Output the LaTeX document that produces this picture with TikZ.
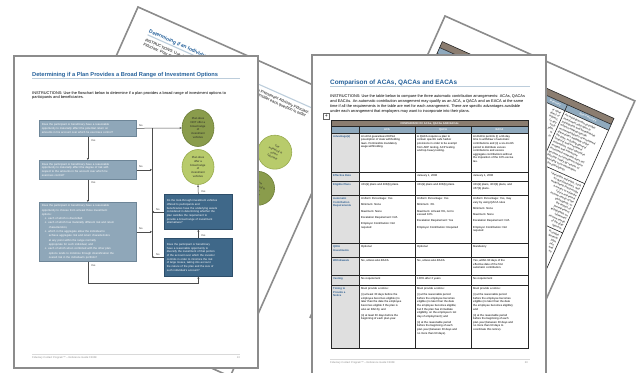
\documentclass[tikz,border=0pt]{standalone}
\usepackage{fontspec}
\setmainfont{Liberation Sans}
\usetikzlibrary{arrows.meta,shapes.geometric}
\newcommand\myfs[2]{\fontsize{#1}{#2}\selectfont}
\definecolor{pageborder}{HTML}{8C8C8C}
\definecolor{titleblue}{HTML}{24609A}
\definecolor{ulinecol}{HTML}{BCCDDB}
\definecolor{boxlight}{HTML}{8FA7B9}
\definecolor{boxlightb}{HTML}{6E8698}
\definecolor{boxdark}{HTML}{3F6889}
\definecolor{boxdarkb}{HTML}{2D4E6A}
\definecolor{circdark}{HTML}{8A9C4C}
\definecolor{circdarkb}{HTML}{6E7E38}
\definecolor{circlight}{HTML}{B8CB6B}
\definecolor{circlightb}{HTML}{97AA4D}
\definecolor{bandcol}{HTML}{8B7D70}
\definecolor{hdrcol}{HTML}{8FA9BD}
\definecolor{firstcol}{HTML}{DFDFDF}
\definecolor{labelblue}{HTML}{2A5C8F}
\definecolor{linecol}{HTML}{4D4D4D}
\definecolor{footgray}{HTML}{8A8A8A}
\tikzset{
 pg/.style={fill=white, draw=pageborder, line width=1.6pt},
 ttl/.style={font=\bfseries\myfs{5.7}{6.5}, text=titleblue, inner sep=0pt, anchor=base west},
 instr/.style={font=\myfs{3.9}{4.4}, inner sep=0pt, anchor=north west, align=left},
 uline/.style={draw=ulinecol, line width=1.1pt},
 fbox/.style={anchor=north west, align=left, text=white, inner xsep=2.5pt, inner ysep=1pt, line width=0.6pt, font=\myfs{2.8}{3.7}},
 lbox/.style={fbox, draw=boxlightb, fill=boxlight},
 dbox/.style={fbox, draw=boxdarkb, fill=boxdark},
 oval/.style={ellipse, inner sep=0pt, line width=0.6pt, align=center, font=\myfs{2.8}{3.8}, text=black!85},
 ovdark/.style={oval, draw=circdarkb, fill=circdark},
 ovlight/.style={oval, draw=circlightb, fill=circlight},
 conn/.style={draw=linecol, line width=0.5pt, -{Stealth[length=2.2pt,width=2pt]}},
 ln/.style={draw=linecol, line width=0.5pt},
 lbl/.style={font=\myfs{2.6}{3}, inner sep=0pt, anchor=base west, text=black!80},
 foot/.style={font=\myfs{2.6}{3}, inner sep=0pt, text=footgray},
 footline/.style={draw=black!15, line width=0.8pt},
 cell/.style={font=\myfs{2.8}{3.6}, inner sep=0pt, anchor=north west, align=left},
 rcell/.style={cell, anchor=north east, align=right},
 rowlbl/.style={cell, text=labelblue, font=\bfseries\myfs{2.7}{3.5}},
 hdrtxt/.style={font=\bfseries\myfs{2.7}{3}, text=white, inner sep=0pt},
 grid/.style={draw=black!85, line width=0.6pt},
}
\begin{document}
\begin{tikzpicture}[x=1pt,y=-1pt]
\useasboundingbox (0,0) rectangle (639,372);
\clip (0,0) rectangle (639,372);
\fill[white] (0,0) rectangle (639,372);

% ---------- back left page (rotated) ----------
\begin{scope}[shift={(138,7)}, rotate=-24, transform shape]
 \filldraw[pg] (0,0) rectangle (234.5,300);
 \node[ttl, font=\bfseries\myfs{5}{6}] (atitle) at (20,19) {Determining if an Individual};
 \draw[uline] (20,21.5) -- (226,21.5);
 \node[instr] (ai1) at (20,25.3) {INSTRUCTIONS: Use the\\Fiduciary. Prior to};
 \node[instr] (ai3) at (141,25.3) {an Investment Advisory Fiduciary.\\\hspace*{2pt}consider each question in order};
 \node[ovlight, minimum width=34pt, minimum height=34pt] (ac1) at (184,77) {The\\individual is\\a plan\\fiduciary};
 \node[ovdark, minimum width=34pt, minimum height=34pt] (ac2) at (183,117) {The\\individual is\\not a\\fiduciary};
\end{scope}

% ---------- back right page (rotated) ----------
\begin{scope}[shift={(445,16)}, rotate=-24.1, transform shape]
 \filldraw[pg] (0,0) rectangle (208,330);
 \fill[bandcol] (8,24.5) rectangle (196,31);
 \fill[hdrcol] (8,31) rectangle (196,37.5);
 \fill[firstcol] (8,37.5) rectangle (44,300);
 \draw[grid] (8,24.5) rectangle (196,300);
 \foreach \v in {31,37.5,96,150,205,262} \draw[grid] (8,\v) -- (196,\v);
 \foreach \u in {44,96,148} \draw[grid] (\u,31) -- (\u,300);
 \node[hdrtxt, anchor=west] (bh3) at (130,34.3) {Fiduciary};
 \node[hdrtxt] (bh4) at (172,34.3) {Non-Fiduciary};
 \node[cell] (bp) at (150,40) {An individual who provides\\investment education to\\participants and beneficiaries\\without making specific\\recommendations of investment\\alternatives available under\\the plan, including general\\financial and investment\\information, asset allocation\\models and interactive\\investment materials does not\\become an investment advice\\fiduciary solely by reason of\\providing such information\\to the participants.};
 \node[rcell] (bq) at (194,98.5) {interactive materials, such\\as questionnaires, and\\worksheets that provide\\a means to estimate\\future retirement\\income needs of the\\participants; or\\the impact of\\preretirement\\withdrawals on\\retirement\\income needs\\of the plan\\sponsor.};
 \node[rcell] (br) at (194,152.5) {Provides\\general\\plan\\info.\\and\\no};
 \node[rcell] (bs) at (146,40) {or other\\direct or\\indirect,\\to any\\such\\plan,\\or\\to};
\end{scope}

% ---------- front left page ----------
\filldraw[pg] (14,56) rectangle (258,368);
\node[ttl] (ltitle) at (32,76.5) {Determining if a Plan Provides a Broad Range of Investment Options};
\draw[uline] (32,78.8) -- (240,78.8);
\node[instr] (linstr) at (32,91) {INSTRUCTIONS: Use the flowchart below to determine if a plan provides a broad range of investment options to\\participants and beneficiaries.};

\node[lbox, minimum width=97pt, minimum height=16pt, text width=92pt] (b1) at (39,120) {Does the participant or beneficiary have a reasonable\\opportunity to materially affect the potential return on\\amounts in his account over which he exercises control?};
\node[lbox, minimum width=97pt, minimum height=19pt, text width=92pt] (b2) at (39,160) {Does the participant or beneficiary have a reasonable\\opportunity to materially affect the degree of risk with\\respect to the amounts in his account over which he\\exercises control?};
\node[lbox, minimum width=97pt, minimum height=59pt, text width=92pt, font=\myfs{2.8}{4.3}] (b3) at (39,202) {Does the participant or beneficiary have a reasonable\\opportunity to choose from at least three investment\\options:\\
\hspace*{3pt}o\hspace{2pt}each of which is diversified;\\
\hspace*{3pt}o\hspace{2pt}each of which has materially different risk and return\\\hspace*{7pt}characteristics;\\
\hspace*{3pt}o\hspace{2pt}which in the aggregate allow the individual to\\\hspace*{7pt}achieve aggregate risk and return characteristics\\\hspace*{7pt}at any point within the range normally\\\hspace*{7pt}appropriate for such individual; and\\
\hspace*{3pt}o\hspace{2pt}each of which when combined with the other plan\\\hspace*{7pt}options tends to minimize through diversification the\\\hspace*{7pt}overall risk in the individual's portfolio?};
\node[dbox, minimum width=68pt, minimum height=35pt, text width=63pt] (b4) at (164,194) {Do the look-through investment vehicles\\offered to participants and\\beneficiaries have the underlying assets\\considered in determining whether the\\plan satisfies the requirement to\\provide a broad range of investment\\alternatives?};
\node[dbox, minimum width=68pt, minimum height=38pt, text width=63pt] (b5) at (164,238) {Does the participant or beneficiary\\have a reasonable opportunity to\\diversify the investment of that portion\\of the account over which the investor\\controls in order to minimize the risk\\of large losses, taking into account\\the nature of the plan and the size of\\such individual's account?};
\node[ovdark, minimum width=32pt, minimum height=37pt] (c1) at (198,128) {Plan does\\NOT offer a\\broad range\\of\\investment\\vehicles};
\node[ovlight, minimum width=32pt, minimum height=35pt] (c2) at (198,167) {Plan does\\offer a\\broad range\\of\\investment\\vehicles};

\coordinate (bus) at (152,128);
\coordinate (botc) at (87.5,283);
\draw[conn] (b1.east) -- (c1.west);
\draw[ln] (bus) -- (bus |- b5.west);
\draw[conn] (b2.east) -- (bus |- b2.east);
\draw[conn] (b3.east) -- (bus |- b3.east);
\draw[conn] (b4.west) -- (bus |- b4.west);
\draw[conn] (b5.west) -- (bus |- b5.west);
\draw[conn] (b1.south) -- (b2.north);
\draw[conn] (b2.south) -- (b3.north);
\draw[conn] (b3.south) -- (b3.south |- botc) -| (b5.south);
\draw[conn] (b5.north) -- (b4.south);
\draw[conn] (b4.north) -- (c2.south);

\node[lbl] (n1) at (139,126.5) {No};
\node[lbl] (n2) at (139,167) {No};
\node[lbl] (n3) at (139,229.5) {No};
\node[lbl] (n4) at (156,210) {No};
\node[lbl] (n5) at (156,255) {No};
\node[lbl] (y1) at (91,141) {Yes};
\node[lbl] (y2) at (91,183.5) {Yes};
\node[lbl] (y3) at (91,266) {Yes};
\node[lbl] (y4) at (201,192.5) {Yes};
\node[lbl] (y5) at (201,236.5) {Yes};

\draw[footline] (32,354) -- (240,354);
\node[foot, anchor=base west] (lfoot) at (32,358.3) {Fiduciary Contact Program\texttrademark{} -- Reference Guide \textcopyright 2008};
\node[foot, anchor=base east] (lpage) at (240,358.3) {13};

% ---------- front right page ----------
\filldraw[pg] (312,55) rectangle (546,385);
\node[ttl, font=\bfseries\myfs{6.4}{7}] (rtitle) at (330,84) {Comparison of ACAs, QACAs and EACAs};
\draw[uline] (330,86.8) -- (530,86.8);
\node[instr, font=\myfs{3.9}{4.95}] (rinstr) at (330,94.5) {INSTRUCTIONS: Use the table below to compare the three automatic contribution arrangements: ACAs, QACAs\\and EACAs. An automatic contribution arrangement may qualify as an ACA, a QACA and an EACA at the same\\time if all the requirements in the table are met for each arrangement. There are specific advantages available\\under each arrangement that employers may want to incorporate into their plans.};
\node[draw=black!60, fill=white, line width=0.4pt, minimum size=5.5pt, inner sep=0pt, font=\myfs{5}{5}] (plus) at (326.3,116.3) {+};

\fill[bandcol] (331,120) rectangle (528,126.5);
\fill[hdrcol] (331,126.5) rectangle (528,133);
\fill[firstcol] (331,133) rectangle (359,348);
\draw[grid] (331,120) rectangle (528,348);
\foreach \y in {126.5,133,172,181,195,243,257,275,285} \draw[grid] (331,\y) -- (528,\y);
\foreach \x in {359,415,471} \draw[grid] (\x,126.5) -- (\x,348);
\node[hdrtxt] (rband) at (429.5,123.4) {COMPARISON OF ACAs, QACAs AND EACAs};
\node[hdrtxt] (rh1) at (387,129.9) {ACA};
\node[hdrtxt] (rh2) at (443,129.9) {QACA};
\node[hdrtxt] (rh3) at (499.5,129.9) {EACA};

\node[rowlbl] (l1) at (333,135) {Advantage(s)};
\node[rowlbl] (l2) at (333,174.5) {Effective Date};
\node[rowlbl] (l3) at (333,183.5) {Eligible Plans};
\node[rowlbl] (l4) at (333,197.5) {Automatic\\Contribution\\Requirements};
\node[rowlbl] (l5) at (333,245.5) {QDIA\\Investments};
\node[rowlbl] (l6) at (333,259.5) {Withdrawals};
\node[rowlbl] (l7) at (333,277.5) {Vesting};
\node[rowlbl] (l8) at (333,287.5) {Timing to\\Provide a\\Notice};

\node[cell] (a1) at (361,135) {An ACA guarantees ERISA\\preemption of state withholding\\laws. Permissible mandatory\\wage withholding.};
\node[cell] (q1) at (417,135) {A QACA requires a plan to\\contain specific safe harbor\\provisions in order to be exempt\\from ADP testing, ACP testing\\and top-heavy testing.};
\node[cell] (e1) at (473,135) {An EACA permits (i) a 90-day\\time to withdraw of automatic\\contributions and (ii) a six-month\\period to distribute excess\\contributions and excess\\aggregate contributions without\\the imposition of the 10\% excise\\tax.};
\node[cell] (q2) at (417,174.5) {January 1, 2008};
\node[cell] (e2) at (473,174.5) {January 1, 2008};
\node[cell] (a3) at (361,183.5) {401(k) plans and 403(b) plans.};
\node[cell] (q3) at (417,183.5) {401(k) plans and 403(b) plans.};
\node[cell] (e3) at (473,183.5) {401(k) plans, 403(b) plans, and\\457(b) plans.};
\node[cell] (a4) at (361,197.5) {Uniform Percentage: Yes\\[2.6pt]Minimum: None\\[2.6pt]Maximum: None\\[2.6pt]Escalation Requirement: N/A\\[2.6pt]Employer Contribution: Not\\required};
\node[cell] (q4) at (417,197.5) {Uniform Percentage: Yes\\[2.6pt]Minimum: 3\%\\[2.6pt]Maximum: At least 6\%, not to\\exceed 10\%\\[2.6pt]Escalation Requirement: Yes\\[2.6pt]Employer Contribution: Required};
\node[cell] (e4) at (473,197.5) {Uniform Percentage: Yes, may\\vary by using QACA rules\\[2.6pt]Minimum: None\\[2.6pt]Maximum: None\\[2.6pt]Escalation Requirement: N/A\\[2.6pt]Employer Contribution: Not\\required};
\node[cell] (a5) at (361,245.5) {Optional};
\node[cell] (q5) at (417,245.5) {Optional};
\node[cell] (e5) at (473,245.5) {Mandatory};
\node[cell] (a6) at (361,259.5) {No, unless also EACA};
\node[cell] (q6) at (417,259.5) {No, unless also EACA};
\node[cell] (e6) at (473,259.5) {Yes, within 90 days of the\\effective date of the first\\automatic contribution.};
\node[cell] (a7) at (361,277.5) {No requirement};
\node[cell] (q7) at (417,277.5) {100\% after 2 years};
\node[cell] (e7) at (473,277.5) {No requirement};
\node[cell] (a8) at (361,287.5) {Must provide a notice:\\[2.4pt](i) at least 30 days before the\\employee becomes eligible (no\\later than the date the employee\\becomes eligible if the plan is\\also an EACA); and\\[2.4pt](ii) at least 30 days before the\\beginning of each plan year.};
\node[cell] (q8) at (417,287.5) {Must provide a notice:\\[2.4pt](i) at the reasonable period\\before the employee becomes\\eligible (no later than the date\\the employee becomes eligible;\\but if the plan has immediate\\eligibility, on the employee's 1st\\day of employment); and\\[2.4pt](ii) at the reasonable period\\before the beginning of each\\plan year (between 30 days and\\no more than 90 days).};
\node[cell] (e8) at (473,287.5) {Must provide a notice:\\[2.4pt](i) at the reasonable period\\before the employee becomes\\eligible (no later than the date\\the employee becomes eligible);\\and\\[2.4pt](ii) at the reasonable period\\before the beginning of each\\plan year (between 30 days and\\no more than 90 days to\\coordinate this notice).};

\draw[footline] (330,359) -- (530,359);
\node[foot, anchor=base west] (rfoot) at (330,363) {Fiduciary Contact Program\texttrademark{} -- Reference Guide \textcopyright 2008};
\node[foot, anchor=base east] (rpage) at (528,363) {20};
\end{tikzpicture}
\end{document}
